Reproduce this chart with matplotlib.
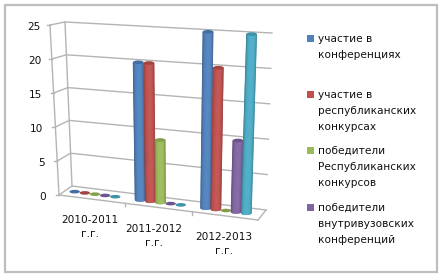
import numpy as np
import matplotlib
matplotlib.use("Agg")
import matplotlib.pyplot as plt
from matplotlib.patches import Ellipse, Polygon, Rectangle

# data
periods = ["2010-2011\nг.г.", "2011-2012\nг.г.", "2012-2013\nг.г."]
conferences = [0, 20, 25]
republican = [0, 20, 20]
rep_winners = [0, 9, 0]
univ_winners = [0, 0, 10]
other = [0, 0, 25]
series = [conferences, republican, rep_winners, univ_winners, other]
colors = ["#4F81BD", "#C0504D", "#9BBB59", "#8064A2", "#4BACC6"]
legend_labels = [
    "участие в\nконференциях",
    "участие в\nреспубликанских\nконкурсах",
    "победители\nРеспубликанских\nконкурсов",
    "победители\nвнутривузовских\nконференций",
]
yticks = [0, 5, 10, 15, 20, 25]

# box corners in pixels
floor_fl = np.array([59.0, 195.0])
floor_fr = np.array([258.0, 220.0])
floor_bl = np.array([72.0, 186.0])
floor_br = np.array([266.0, 210.0])
top_fl = np.array([50.0, 25.0])
top_fr = np.array([265.0, 37.0])
top_bl = np.array([65.0, 22.0])
top_br = np.array([272.0, 33.0])


def project(u, v, h):
    # u = category position 0..3, v = depth 0..1, h = value 0..25
    a, b = u / 3, h / 25
    floor = (1 - v) * ((1 - a) * floor_fl + a * floor_fr) + v * ((1 - a) * floor_bl + a * floor_br)
    top = (1 - v) * ((1 - a) * top_fl + a * top_fr) + v * ((1 - a) * top_bl + a * top_br)
    return (1 - b) * floor + b * top


def shade(color, k):
    rgb = np.array(matplotlib.colors.to_rgb(color))
    if k < 1:
        return tuple(rgb * k)
    return tuple(rgb + (1 - rgb) * (k - 1))


fig = plt.figure(figsize=(4.44, 2.78), dpi=100)
ax = fig.add_axes([0, 0, 1, 1])
ax.set_xlim(0, 444)
ax.set_ylim(278, 0)
ax.axis("off")

ax.add_patch(Rectangle((5, 5), 432, 267, fill=False, ec="#BEBEBE", lw=1.6))

# walls and grid
grid = "#B4B4B4"
for t in yticks:
    pts = np.array([project(0, 0, t), project(0, 1, t), project(3, 1, t)])
    ax.plot(pts[:, 0], pts[:, 1], color=grid, lw=1, zorder=1)
    tick = project(0, 0, t)
    ax.plot([tick[0] - 3, tick[0]], [tick[1], tick[1]], color=grid, lw=1, zorder=1)
    ax.text(tick[0] - 10 - 3 * (1 - t / 25), tick[1] + 2, str(t), ha="right", va="center",
            fontsize=7.6, color="#111111")

for a, b in [((0, 0, 0), (0, 0, 25)), ((0, 1, 0), (0, 1, 25)),
             ((0, 0, 0), (3, 0, 0)), ((3, 0, 0), (3, 1, 0))]:
    pts = np.array([project(*a), project(*b)])
    ax.plot(pts[:, 0], pts[:, 1], color=grid, lw=1, zorder=1)
for i in range(1, 3):
    p = project(i, 0, 0)
    ax.plot([p[0], p[0]], [p[1], p[1] + 3], color=grid, lw=1, zorder=1)

# category labels
label_shift = [-2, -5, -1]
for i, label in enumerate(periods):
    p = project(i + 0.5, 0, 0)
    ax.text(p[0] + label_shift[i], p[1] + 28, label, ha="center", va="center",
            fontsize=7.6, color="#111111", linespacing=1.5)

# cylinders
half = 5.2
strips = 20
for i in range(len(periods)):
    for s, values in enumerate(series):
        u = i + 0.14 + s * 0.155
        base = project(u, 0.5, 0)
        top = project(u, 0.5, values[i])
        z = 3 + i * 10 + s
        if values[i] > 0:
            edges = np.linspace(-1, 1, strips + 1)
            for e0, e1 in zip(edges[:-1], edges[1:]):
                mid = (e0 + e1) / 2
                k = 1.04 - 0.26 * mid ** 4 - 0.1 * (mid < 0) * abs(mid)
                # bottom of the strip follows the round foot
                d0 = 1.8 * np.sqrt(1 - e0 ** 2)
                d1 = 1.8 * np.sqrt(1 - e1 ** 2)
                c = shade(colors[s], k)
                ax.add_patch(Polygon(
                    [(top[0] + e0 * half, top[1]), (top[0] + e1 * half, top[1]),
                     (base[0] + e1 * half, base[1] + d1), (base[0] + e0 * half, base[1] + d0)],
                    closed=True, fc=c, ec=c, lw=0.3, zorder=z))
            ax.add_patch(Ellipse(top, 2 * half, 3.6, fc=shade(colors[s], 0.85), ec="none", zorder=z + 0.5))
        else:
            ax.add_patch(Ellipse(base, 2 * half, 3.6, fc=shade(colors[s], 0.85), ec="none", zorder=z))

# legend
legend_y = [39, 95, 151, 208]
for label, color, y in zip(legend_labels, colors, legend_y):
    ax.add_patch(Rectangle((307, y - 4.5), 7, 7, fc=color, ec="none"))
    for n, line in enumerate(label.split("\n")):
        ax.text(318, y + n * 16, line, ha="left", va="center", fontsize=7.6, color="#111111")

fig.savefig("out.png", dpi=100)
